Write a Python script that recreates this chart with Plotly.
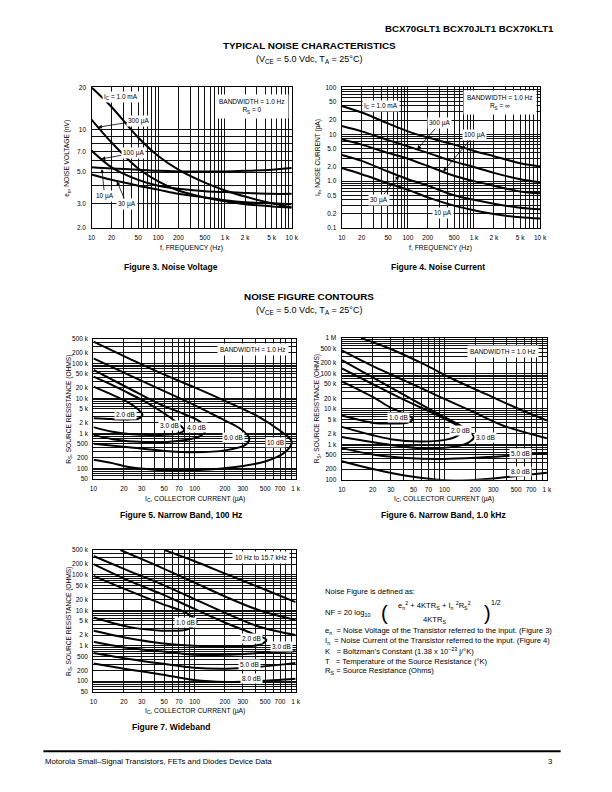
import numpy as np
import plotly.graph_objects as go

W, H = 612, 792          # page size
OFF = 8                  # default body margin of the page
FW, FH = W - 2 * OFF, H - 2 * OFF
FONT = "Liberation Sans, Arial, sans-serif"

# ---------------- data ----------------
freq_hz = [10, 20, 50, 100, 200, 500, 1000, 2000, 5000, 10000]

# Figure 3: noise voltage (nV)
en_1ma = [20, 14.5, 8.8, 6.5, 5.2, 4.2, 3.7, 3.35, 3.0, 2.8]
en_300ua = [11.8, 8.1, 5.3, 4.3, 3.7, 3.3, 3.1, 2.95, 2.85, 2.8]
en_100ua = [7.1, 5.4, 4.4, 4.0, 3.8, 3.65, 3.6, 3.55, 3.5, 3.5]
en_30ua = [4.8, 4.4, 4.0, 3.75, 3.5, 3.3, 3.15, 3.05, 3.0, 2.95]
en_10ua = [5.4, 5.3, 5.2, 5.1, 5.05, 5.05, 5.05, 5.1, 5.2, 5.35]

# Figure 4: noise current (pA)
in_1ma = [40, 29, 17, 11.5, 8.5, 6.0, 4.4, 3.4, 2.4, 2.05]
in_300ua = [15, 11.5, 7.5, 5.5, 4.0, 2.6, 2.0, 1.5, 1.1, 0.95]
in_100ua = [7.8, 6.0, 4.0, 3.0, 2.1, 1.3, 1.0, 0.8, 0.6, 0.55]
in_30ua = [3.6, 2.7, 1.6, 1.1, 0.8, 0.5, 0.4, 0.33, 0.27, 0.25]
in_10ua = [1.9, 1.4, 0.9, 0.65, 0.45, 0.3, 0.24, 0.2, 0.17, 0.16]

# Figure 5: narrow band 100 Hz contours (Ic uA, Rs ohms)
nb100_2db_ic = [10, 15.4, 22.3, 27.9, 30.5, 28, 22, 15, 10]
nb100_2db_rs = [21700, 12600, 7600, 4700, 3400, 2650, 2500, 2550, 2700]
nb100_3db_ic = [10, 15.4, 22.3, 32.4, 46.9, 62, 74, 79, 70, 47, 22.3, 15.4, 10]
nb100_3db_rs = [42000, 24000, 14000, 8100, 4200, 2400, 1560, 1260, 1000, 900, 950, 1100, 1500]
nb100_4db_ic = [10, 22.3, 46.9, 82, 112, 130, 115, 68, 32, 15.4, 10]
nb100_4db_rs = [65000, 19500, 6500, 3400, 2200, 1300, 850, 600, 560, 680, 900]
nb100_6db_ic = [10, 22.3, 46.9, 98.6, 180, 279, 348, 320, 207, 98.6, 46.9, 22.3, 10]
nb100_6db_rs = [140000, 47000, 17500, 6500, 2700, 1400, 730, 470, 330, 285, 320, 400, 500]
nb100_10db_ic = [10, 22.3, 46.9, 98.6, 207, 436, 680, 914, 800, 500, 207, 98.6, 46.9, 22.3, 15.4, 10]
nb100_10db_rs = [420000, 140000, 52000, 21000, 8100, 2900, 1260, 590, 300, 156, 101, 88, 88, 108, 140, 175]

# Figure 6: narrow band 1.0 kHz contours
nb1k_1db_ic = [10, 20.6, 29.6, 42.5, 49, 44, 30, 20.6, 10]
nb1k_1db_rs = [60000, 20800, 11000, 6900, 5200, 4100, 3850, 4000, 6500]
nb1k_2db_ic = [10, 20.6, 42.5, 87, 125, 150, 140, 110, 60, 30, 10]
nb1k_2db_rs = [140000, 48000, 16800, 6500, 3800, 2500, 1900, 1400, 1200, 1400, 3100]
nb1k_3db_ic = [10, 20.6, 42.5, 87, 150, 194, 170, 125, 61, 30, 10]
nb1k_3db_rs = [237000, 74000, 23000, 7200, 3100, 1600, 1100, 860, 780, 960, 1600]
nb1k_5db_up_ic = [10, 20.6, 42.5, 87, 180, 371, 1000]
nb1k_5db_up_rs = [448000, 155000, 60000, 23000, 8900, 3400, 1470]
nb1k_5db_lo_ic = [10, 20.6, 42.5, 87, 180, 371, 1000]
nb1k_5db_lo_rs = [780, 510, 413, 386, 413, 459, 570]
nb1k_8db_up_ic = [15.4, 29.6, 61, 125, 259, 533, 1000]
nb1k_8db_up_rs = [1000000, 498000, 192000, 66500, 25600, 9900, 4700]
nb1k_8db_lo_ic = [10, 20.6, 42.5, 87, 125, 259, 533, 1000]
nb1k_8db_lo_rs = [334, 197, 130, 100, 95, 105, 130, 158]

# Figure 7: wideband contours
wb_1db_ic = [10, 22.3, 46.9, 85, 105, 85, 46.9, 22.3, 10]
wb_1db_rs = [94000, 36000, 15400, 8100, 4700, 2900, 2660, 3400, 6250]
wb_2db_ic = [10, 22.3, 46.9, 98.6, 207, 375, 513, 436, 207, 98.6, 46.9, 22.3, 10]
wb_2db_rs = [200000, 68600, 29000, 11100, 4300, 2200, 1460, 1060, 955, 1000, 1180, 1630, 2660]
wb_3db_up_ic = [10, 22.3, 46.9, 98.6, 207, 436, 1000]
wb_3db_up_rs = [340000, 130000, 55000, 21000, 8100, 3440, 2000]
wb_3db_lo_ic = [10, 22.3, 46.9, 98.6, 207, 436, 1000]
wb_3db_lo_rs = [1300, 857, 693, 560, 560, 623, 693]
wb_5db_up_ic = [18.5, 46.9, 98.6, 207, 436, 1000]
wb_5db_up_rs = [500000, 161000, 61600, 23500, 10000, 5300]
wb_5db_lo_ic = [10, 22.3, 46.9, 98.6, 207, 436, 1000]
wb_5db_lo_rs = [623, 424, 314, 238, 223, 254, 328]
wb_8db_up_ic = [50.5, 98.6, 207, 436, 1000]
wb_8db_up_rs = [500000, 247000, 105000, 44700, 17000]
wb_8db_lo_ic = [10, 22.3, 46.9, 98.6, 207, 436, 1000]
wb_8db_lo_rs = [314, 214, 155, 108, 95, 101, 117]

# tick labels
freq_tick_vals = [10, 20, 50, 100, 200, 500, 1000, 2000, 5000, 10000]
freq_tick_text = ["10", "20", "50", "100", "200", "500", "1 k", "2 k", "5 k", "10 k"]
en_tick_vals = [2, 3, 5, 7, 10, 20]
en_tick_text = ["2.0", "3.0", "5.0", "7.0", "10", "20"]
in_tick_vals = [0.1, 0.2, 0.5, 1, 2, 5, 10, 20, 50, 100]
in_tick_text = ["0.1", "0.2", "0.5", "1.0", "2.0", "5.0", "10", "20", "50", "100"]
ic_tick_vals = [10, 20, 30, 50, 70, 100, 200, 300, 500, 700, 1000]
ic_tick_text = ["10", "20", "30", "50", "70", "100", "200", "300", "500", "700", "1 k"]
rs_tick_vals = [50, 100, 200, 500, 1000, 2000, 5000, 10000, 20000, 50000,
                100000, 200000, 500000, 1000000]
rs_tick_text = ["50", "100", "200", "500", "1 k", "2 k", "5 k", "10 k", "20 k", "50 k",
                "100 k", "200 k", "500 k", "1 M"]

# ---------------- layout helpers ----------------
def px(x):
    return (x - OFF) / FW


def py(y):
    return 1 - (y - OFF) / FH


def log_grid(lo, hi):
    vals = []
    k = int(np.floor(np.log10(lo)))
    while 10.0 ** k <= hi * 1.0001:
        for d in range(1, 10):
            v = round(d * 10.0 ** k, 8)
            if lo * 0.9999 <= v <= hi * 1.0001:
                vals.append(v)
        k += 1
    return vals


def axis_cfg(a0, a1, lo, hi, tv, tt, anchor, horizontal):
    grid = log_grid(lo, hi)
    lab = {round(v, 8): t for v, t in zip(tv, tt)}
    vals = sorted(set(grid) | set(lab.keys()))
    vals = [v for v in vals if lo * 0.9999 <= v <= hi * 1.0001]
    text = [lab.get(v, "") for v in vals]
    dom = [px(a0), px(a1)] if horizontal else [py(a1), py(a0)]
    return dict(type="log", domain=dom, range=[np.log10(lo), np.log10(hi)],
                tickmode="array", tickvals=vals, ticktext=text,
                showgrid=True, gridcolor="#111", gridwidth=0.9,
                showline=True, mirror=True, linecolor="black", linewidth=1.4,
                zeroline=False, ticks="", ticklabelstandoff=3,
                tickfont=dict(family=FONT, size=6.5, color="black"),
                anchor=anchor, fixedrange=True)


# panels: (x0, x1, y0, y1) in page pixels
panels = [
    (89, 293, 84, 226),   # fig 3
    (344, 546, 84, 226),  # fig 4
    (91, 297, 338, 479),  # fig 5
    (344, 553, 337, 480), # fig 6
    (91, 297, 551, 694),  # fig 7
]
x_specs = [(10, 10000, freq_tick_vals, freq_tick_text),
           (10, 10000, freq_tick_vals, freq_tick_text),
           (10, 1000, ic_tick_vals, ic_tick_text),
           (10, 1000, ic_tick_vals, ic_tick_text),
           (10, 1000, ic_tick_vals, ic_tick_text)]
y_specs = [(2, 20, en_tick_vals, en_tick_text),
           (0.1, 100, in_tick_vals, in_tick_text),
           (50, 500000, rs_tick_vals, rs_tick_text),
           (100, 1000000, rs_tick_vals, rs_tick_text),
           (50, 500000, rs_tick_vals, rs_tick_text)]

fig = go.Figure()
layout_axes = {}
for i, ((x0, x1, y0, y1), xs, ys) in enumerate(zip(panels, x_specs, y_specs), start=1):
    xn = "xaxis" if i == 1 else f"xaxis{i}"
    yn = "yaxis" if i == 1 else f"yaxis{i}"
    xa = "x" if i == 1 else f"x{i}"
    ya = "y" if i == 1 else f"y{i}"
    layout_axes[xn] = axis_cfg(x0, x1, xs[0], xs[1], xs[2], xs[3], ya, True)
    layout_axes[yn] = axis_cfg(y0, y1, ys[0], ys[1], ys[2], ys[3], xa, False)


def ax_ids(i):
    return ("x" if i == 1 else f"x{i}", "y" if i == 1 else f"y{i}")


def curve(i, xv, yv):
    xa, ya = ax_ids(i)
    fig.add_trace(go.Scatter(x=xv, y=yv, mode="lines", xaxis=xa, yaxis=ya,
                             line=dict(color="black", width=2.0, shape="spline", smoothing=0.9),
                             hoverinfo="skip", showlegend=False))


for s in [en_1ma, en_300ua, en_100ua, en_30ua, en_10ua]:
    curve(1, freq_hz, s)
for s in [in_1ma, in_300ua, in_100ua, in_30ua, in_10ua]:
    curve(2, freq_hz, s)
for a, b in [(nb100_2db_ic, nb100_2db_rs), (nb100_3db_ic, nb100_3db_rs),
             (nb100_4db_ic, nb100_4db_rs), (nb100_6db_ic, nb100_6db_rs),
             (nb100_10db_ic, nb100_10db_rs)]:
    curve(3, a, b)
for a, b in [(nb1k_1db_ic, nb1k_1db_rs), (nb1k_2db_ic, nb1k_2db_rs),
             (nb1k_3db_ic, nb1k_3db_rs), (nb1k_5db_up_ic, nb1k_5db_up_rs),
             (nb1k_5db_lo_ic, nb1k_5db_lo_rs), (nb1k_8db_up_ic, nb1k_8db_up_rs),
             (nb1k_8db_lo_ic, nb1k_8db_lo_rs)]:
    curve(4, a, b)
for a, b in [(wb_1db_ic, wb_1db_rs), (wb_2db_ic, wb_2db_rs),
             (wb_3db_up_ic, wb_3db_up_rs), (wb_3db_lo_ic, wb_3db_lo_rs),
             (wb_5db_up_ic, wb_5db_up_rs), (wb_5db_lo_ic, wb_5db_lo_rs),
             (wb_8db_up_ic, wb_8db_up_rs), (wb_8db_lo_ic, wb_8db_lo_rs)]:
    curve(5, a, b)

ann = []
LBL = 6.5


def lab(i, x, y, text, size=LBL, pad=1, align="center"):
    xa, ya = ax_ids(i)
    ann.append(dict(xref=xa, yref=ya, x=np.log10(x), y=np.log10(y), text=text,
                    showarrow=False, bgcolor="white", borderpad=pad, align=align,
                    font=dict(family=FONT, size=size, color="black")))


def arrow(i, xt, yt, xh, yh, text):
    xa, ya = ax_ids(i)
    ann.append(dict(xref=xa, yref=ya, x=np.log10(xh), y=np.log10(yh),
                    axref=xa, ayref=ya, ax=np.log10(xt), ay=np.log10(yt),
                    text=text, showarrow=True, arrowhead=2, arrowsize=1.0,
                    arrowwidth=0.8, arrowcolor="black", bgcolor="white", borderpad=1,
                    font=dict(family=FONT, size=LBL, color="black")))


def ptext(x, y, text, size=7, anchor="left", bold=False, **kw):
    d = dict(xref="paper", yref="paper", x=px(x), y=py(y), text=text, showarrow=False,
             xanchor=anchor, yanchor="middle",
             font=dict(family=FONT, size=size, color="black",
                       weight="bold" if bold else "normal"))
    d.update(kw)
    ann.append(d)


# Figure 3 labels
lab(1, 28, 17.2, "I<sub>C</sub> = 1.0 mA")
lab(1, 2500, 14.5, "BANDWIDTH = 1.0 Hz<br>R<sub>S</sub> = 0", pad=3)
arrow(1, 51, 11.6, 12.5, 10.4, "300 µA")
arrow(1, 42, 6.8, 14, 6.2, "100 µA")
arrow(1, 15.7, 3.4, 14.3, 5.25, "10 µA")
arrow(1, 33.6, 2.97, 24, 4.3, "30 µA")

# Figure 4 labels
lab(2, 39, 39, "I<sub>C</sub> = 1.0 mA")
lab(2, 2500, 48, "BANDWIDTH = 1.0 Hz<br>R<sub>S</sub> = ∞", pad=3)
arrow(2, 305, 17.1, 138, 4.75, "300 µA")
arrow(2, 1015, 9.7, 342, 1.6, "100 µA")
arrow(2, 37, 0.40, 73.5, 1.3, "30 µA")
lab(2, 342, 0.21, "10 µA")

# Figure 5 labels
lab(3, 375, 243000, "BANDWIDTH = 1.0 Hz", pad=2)
lab(3, 20.7, 3370, "2.0 dB")
lab(3, 56.6, 1630, "3.0 dB")
lab(3, 104, 1470, "4.0 dB")
lab(3, 244, 759, "6.0 dB")
lab(3, 631, 558, "10 dB")

# Figure 6 labels
lab(4, 371, 429000, "BANDWIDTH = 1.0 Hz", pad=2)
lab(4, 36, 5800, "1.0 dB")
lab(4, 145, 2500, "2.0 dB")
lab(4, 250, 1570, "3.0 dB")
lab(4, 552, 545, "5.0 dB")
lab(4, 552, 170, "8.0 dB")

# Figure 7 labels
lab(5, 452, 306000, "10 Hz to 15.7 kHz", pad=2)
lab(5, 82, 4500, "1.0 dB")
lab(5, 362, 1630, "2.0 dB")
lab(5, 730, 955, "3.0 dB")
lab(5, 348, 295, "5.0 dB")
lab(5, 362, 120, "8.0 dB")

# axis titles
for (x0, x1, y0, y1), xt, yt, xtitle_y in [
        (panels[0], "f, FREQUENCY (Hz)", "e<sub>n</sub>, NOISE VOLTAGE (nV)", 246),
        (panels[1], "f, FREQUENCY (Hz)", "I<sub>n</sub>, NOISE CURRENT (pA)", 246),
        (panels[2], "I<sub>C</sub>, COLLECTOR CURRENT (µA)", "R<sub>S</sub>, SOURCE RESISTANCE (OHMS)", 499),
        (panels[3], "I<sub>C</sub>, COLLECTOR CURRENT (µA)", "R<sub>S</sub>, SOURCE RESISTANCE (OHMS)", 499),
        (panels[4], "I<sub>C</sub>, COLLECTOR CURRENT (µA)", "R<sub>S</sub>, SOURCE RESISTANCE (OHMS)", 713)]:
    ptext((x0 + x1) / 2, xtitle_y, xt, size=6.8, anchor="center")
    ptext(x0 - 25, (y0 + y1) / 2, yt, size=6.6, anchor="center", textangle=-90)

# captions
CAP = 8.5
ptext(170, 265, "Figure 3. Noise Voltage", size=CAP, anchor="center", bold=True)
ptext(442, 265, "Figure 4. Noise Current", size=CAP, anchor="center", bold=True)
ptext(180, 516, "Figure 5. Narrow Band, 100 Hz", size=CAP, anchor="center", bold=True)
ptext(448, 516, "Figure 6. Narrow Band, 1.0 kHz", size=CAP, anchor="center", bold=True)
ptext(170, 730, "Figure 7. Wideband", size=CAP, anchor="center", bold=True)

# headings
ptext(562, 25, "BCX70GLT1 BCX70JLT1 BCX70KLT1", size=9.7, anchor="right", bold=True)
ptext(311, 42, "TYPICAL NOISE CHARACTERISTICS", size=9.9, anchor="center", bold=True)
ptext(311, 56, "(V<sub>CE</sub> = 5.0 Vdc, T<sub>A</sub> = 25°C)", size=9.0, anchor="center")
ptext(311, 295, "NOISE FIGURE CONTOURS", size=9.9, anchor="center", bold=True)
ptext(311, 309, "(V<sub>CE</sub> = 5.0 Vdc, T<sub>A</sub> = 25°C)", size=9.0, anchor="center")

# noise figure definition
TX = 7.6
ptext(325, 593, "Noise Figure is defined as:", size=TX)
ptext(325, 614, "NF = 20 log<sub>10</sub>", size=TX)
ptext(382, 614, "(", size=20)
ptext(438, 607, "e<sub>n</sub><sup>2</sup> + 4KTR<sub>S</sub> + I<sub>n</sub> <sup>2</sup>R<sub>S</sub><sup>2</sup>",
      size=TX, anchor="center")
ptext(438, 622, "4KTR<sub>S</sub>", size=TX, anchor="center")
ptext(487, 614, ")", size=20)
ptext(494, 604, "1/2", size=7)
ptext(325, 633, "e<sub>n</sub>  = Noise Voltage of the Transistor referred to the input. (Figure 3)", size=TX)
ptext(325, 643, "I<sub>n</sub>  = Noise Current of the Transistor referred to the input. (Figure 4)", size=TX)
ptext(325, 653, "K   = Boltzman’s Constant (1.38 x 10<sup>–23</sup> j/°K)", size=TX)
ptext(325, 663, "T   = Temperature of the Source Resistance (°K)", size=TX)
ptext(325, 673, "R<sub>S</sub> = Source Resistance (Ohms)", size=TX)

# footer
ptext(40, 764, "Motorola Small–Signal Transistors, FETs and Diodes Device Data", size=7.8)
ptext(560, 764, "3", size=7.8, anchor="right")

fig.update_layout(
    width=FW, height=FH, margin=dict(l=0, r=0, t=0, b=0),
    paper_bgcolor="white", plot_bgcolor="white", showlegend=False,
    annotations=ann,
    shapes=[dict(type="line", xref="paper", yref="paper", x0=px(40), x1=px(567),
                 y0=py(754), y1=py(754), line=dict(color="black", width=2))],
    **layout_axes,
)

fig.write_html("out.html")
